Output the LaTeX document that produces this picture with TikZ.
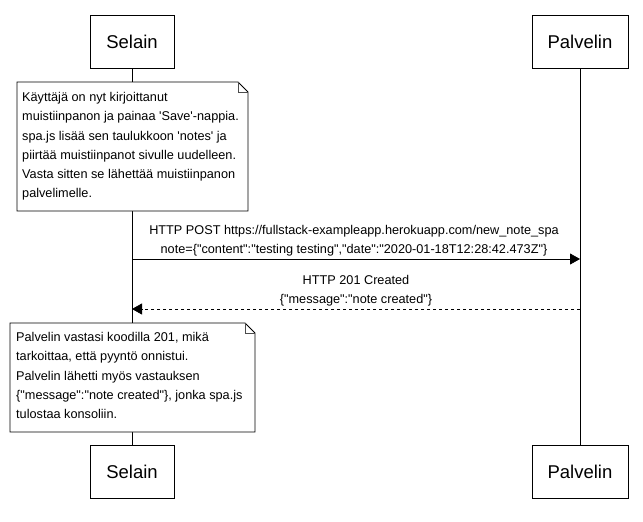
\documentclass[tikz,border=0pt]{standalone}
\usepackage{fontspec}
\setmainfont{Liberation Sans}[Ligatures=TeXOff]
\usetikzlibrary{arrows.meta}
\begin{document}
\begin{tikzpicture}[x=1pt,y=-1pt,
  actor/.style={draw=black,line width=1pt,fill=white,minimum width=#1,minimum height=53pt,inner sep=0pt,font=\fontsize{18.5}{22}\selectfont},
  notetext/.style={align=left,anchor=north west,inner sep=0pt,font=\fontsize{12.7}{19.3}\selectfont},
  noteline/.style={draw=black,line width=0.8pt,fill=white},
  foldline/.style={draw=black!70,line width=0.6pt},
  lifeline/.style={draw=black,line width=0.8pt},
  msg/.style={draw=black,line width=0.8pt,-{Triangle[length=10pt,width=11pt]}},
  reply/.style={msg,dash pattern=on 3pt off 3pt},
  lbl/.style={inner sep=0pt,font=\fontsize{12.7}{19}\selectfont,align=center}]
\useasboundingbox (0,0) rectangle (643,522);
% actors
\node[actor=84pt] (selT) at (132,41.5) {Selain};
\node[actor=96pt] (palT) at (580,41.5) {Palvelin};
\node[actor=84pt] (selB) at (132,471.5) {Selain};
\node[actor=96pt] (palB) at (580,471.5) {Palvelin};
% lifelines
\draw[lifeline] (selT.south) -- (selB.north);
\draw[lifeline] (palT.south) -- (palB.north);
% note 1
\path[noteline] (17,82) -- (238,82) -- (248,92) -- (248,211) -- (17,211) -- cycle;
\draw[foldline] (238,82) -- (238,92) -- (248,92);
\node[notetext] (note1) at (22,92) {Käyttäjä on nyt kirjoittanut\\muistiinpanon ja painaa 'Save'-nappia.\\spa.js lisää sen taulukkoon 'notes' ja\\piirtää muistiinpanot sivulle uudelleen.\\Vasta sitten se lähettää muistiinpanon\\palvelimelle.};
% messages
\coordinate (postS) at (132,259);
\coordinate (postE) at (580,259);
\draw[msg] (postS) -- (postE);
\node[lbl] (postL) at (354,240.5) {HTTP POST https://fullstack-exampleapp.herokuapp.com/new\_note\_spa\\note=\{"content":"testing testing","date":"2020-01-18T12:28:42.473Z"\}};
\coordinate (repS) at (580,309);
\coordinate (repE) at (132,309);
\draw[reply] (repS) -- (repE);
\node[lbl] (repL) at (356,291) {HTTP 201 Created\\\{"message":"note created"\}};
% note 2
\path[noteline] (10,323) -- (245,323) -- (255,333) -- (255,432) -- (10,432) -- cycle;
\draw[foldline] (245,323) -- (245,333) -- (255,333);
\node[notetext] (note2) at (16,332) {Palvelin vastasi koodilla 201, mikä\\tarkoittaa, että pyyntö onnistui.\\Palvelin lähetti myös vastauksen\\\{"message":"note created"\}, jonka spa.js\\tulostaa konsoliin.};
\end{tikzpicture}
\end{document}
